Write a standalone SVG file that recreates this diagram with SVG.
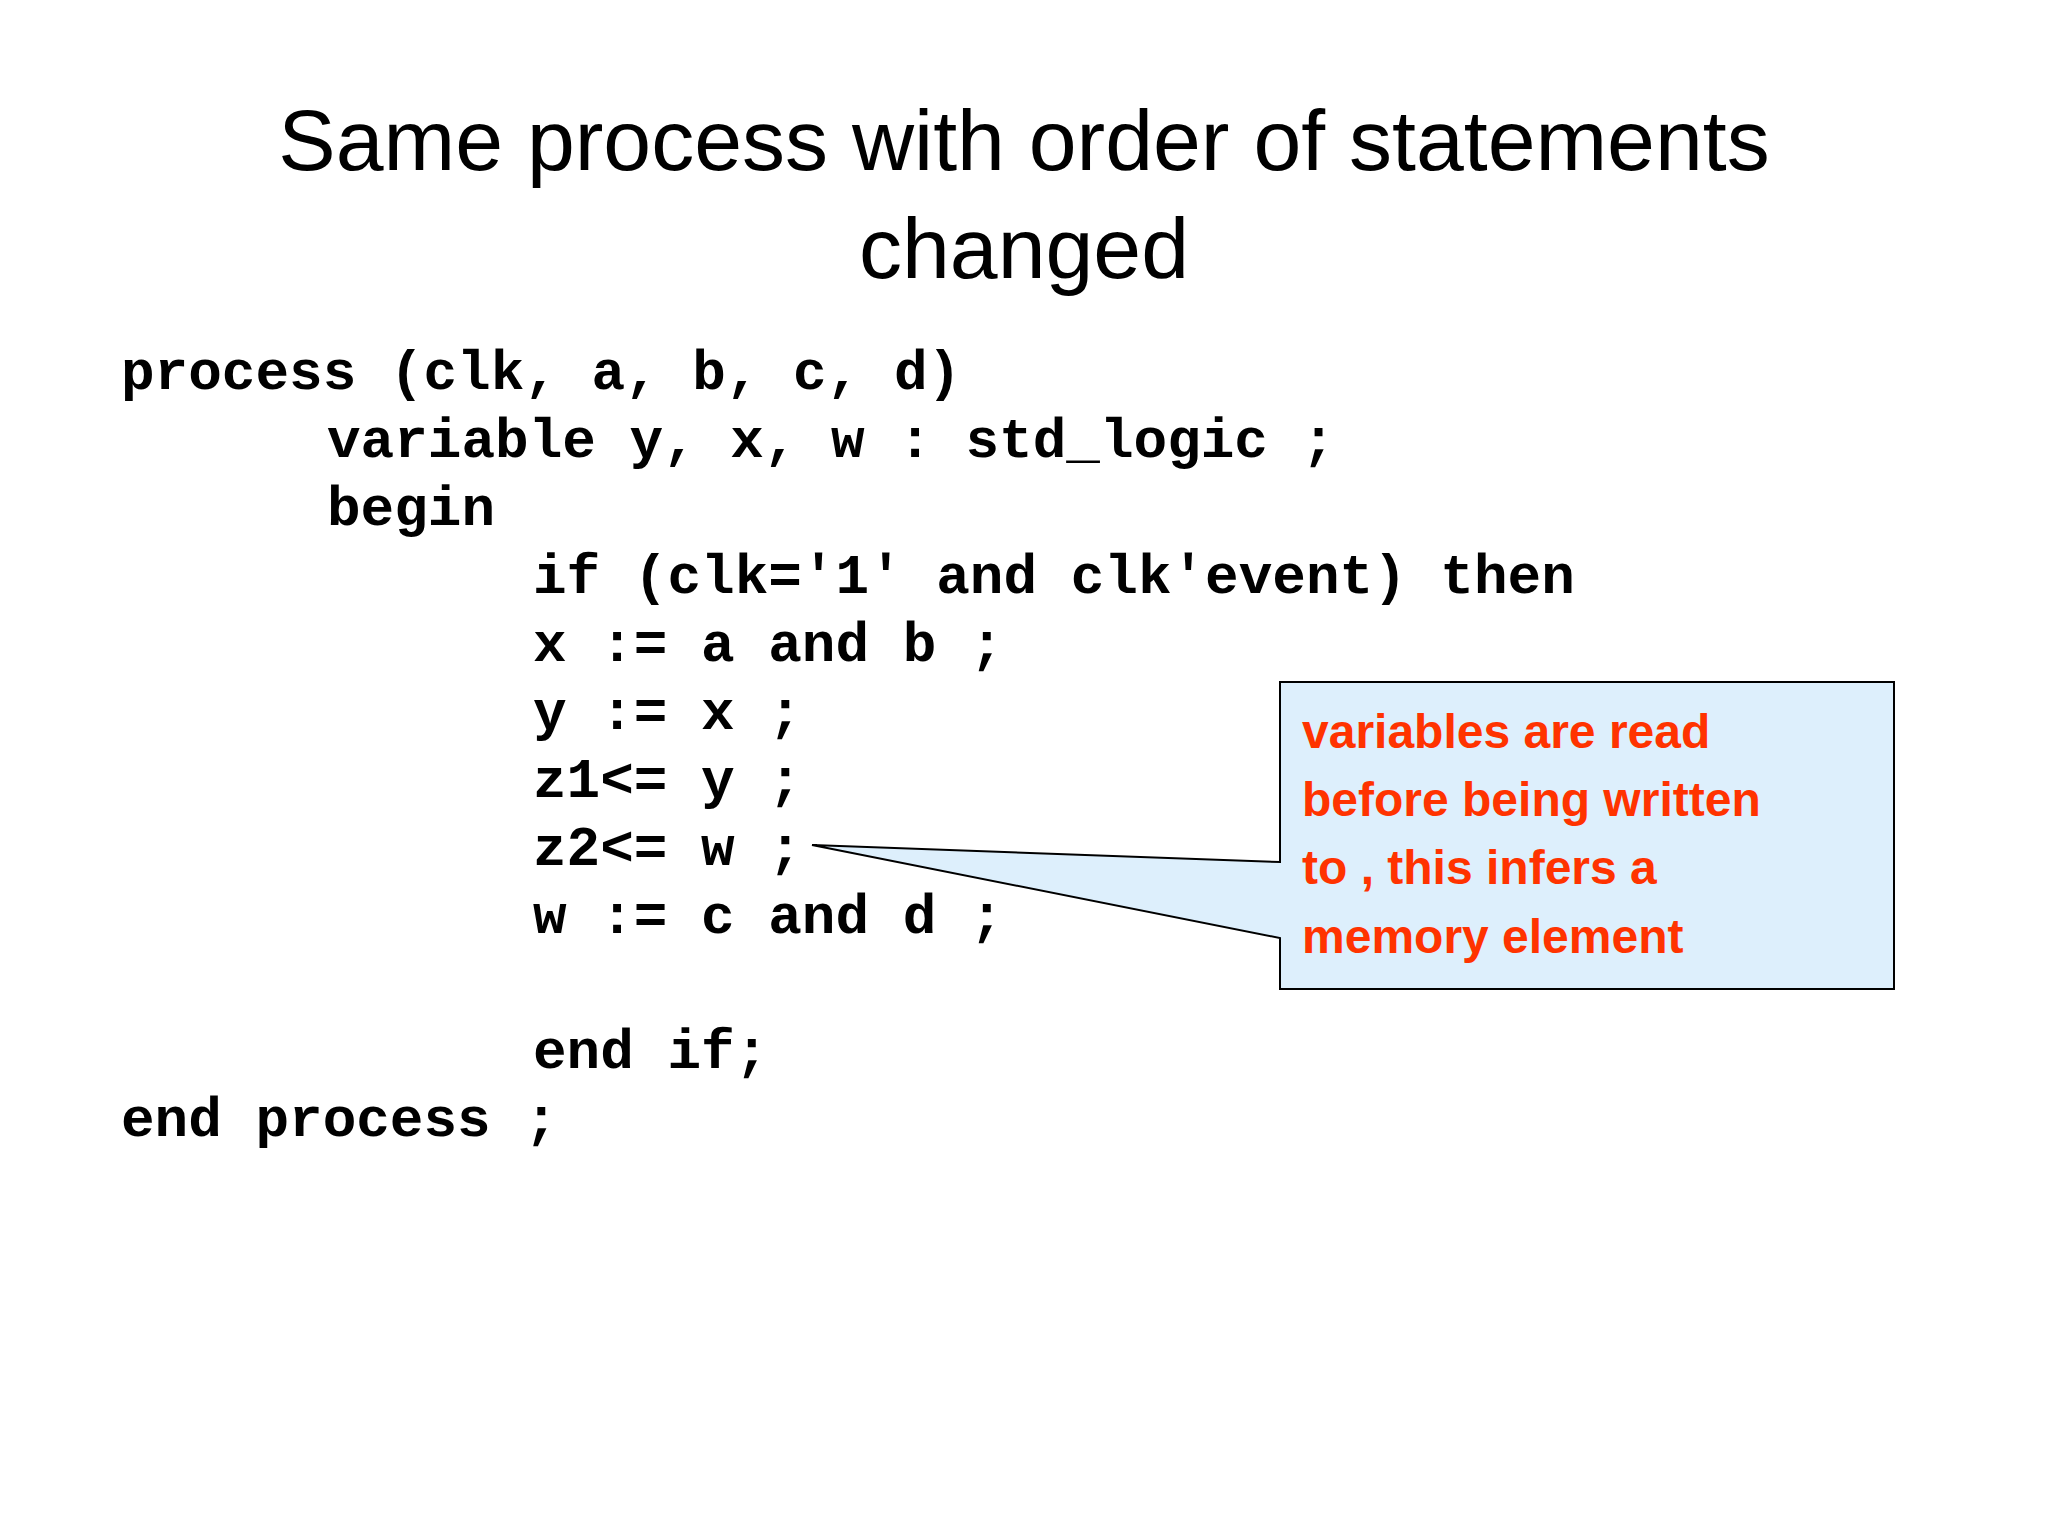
<svg xmlns="http://www.w3.org/2000/svg" width="2048" height="1536" viewBox="0 0 2048 1536">
<style>
.t{font-family:"Liberation Sans",Arial,sans-serif;font-size:86px;fill:#000;text-anchor:middle}
.c{font-family:"Liberation Mono","Courier New",monospace;font-weight:bold;font-size:56px;fill:#000;white-space:pre}
.n{font-family:"Liberation Sans",Arial,sans-serif;font-weight:bold;font-size:48px;fill:#FF3300}
</style>
<rect width="2048" height="1536" fill="#fff"/>
<g id="title">
<text class="t" x="1024" y="170">Same process with order of statements</text>
<text class="t" x="1024" y="278">changed</text>
</g>
<g id="code">
<text class="c" x="121" y="389">process (clk, a, b, c, d)</text>
<text class="c" x="327" y="457">variable y, x, w : std_logic ;</text>
<text class="c" x="327" y="525">begin</text>
<text class="c" x="533" y="593">if (clk='1' and clk'event) then</text>
<text class="c" x="533" y="661">x := a and b ;</text>
<text class="c" x="533" y="729">y := x ;</text>
<text class="c" x="533" y="797">z1&lt;= y ;</text>
<text class="c" x="533" y="865">z2&lt;= w ;</text>
<text class="c" x="533" y="933">w := c and d ;</text>
<text class="c" x="533" y="1068">end if;</text>
<text class="c" x="121" y="1136">end process ;</text>
</g>
<g id="callout">
<path d="M1280,682 H1894 V989 H1280 V938 L812,845 L1280,862 Z" fill="#DDEFFC" stroke="#000" stroke-width="2"/>
<text class="n" x="1302" y="748">variables are read</text>
<text class="n" x="1302" y="816">before being written</text>
<text class="n" x="1302" y="884">to ,  this infers a</text>
<text class="n" x="1302" y="953">memory element</text>
</g>
</svg>
